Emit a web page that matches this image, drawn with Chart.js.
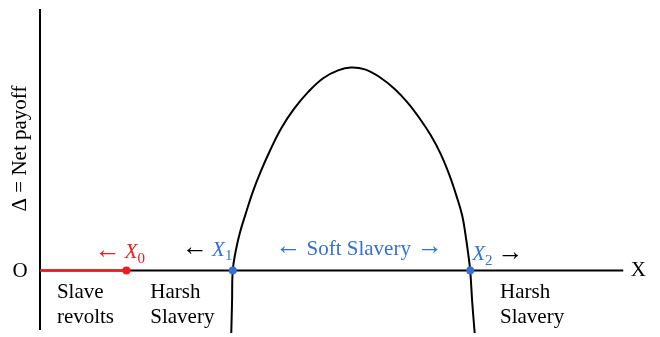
<!DOCTYPE html>
<html>
<head>
<meta charset="utf-8">
<script src="https://cdn.jsdelivr.net/npm/chart.js@4"></script>
<style>
  html, body { margin: 0; padding: 0; background: #fff; }
  #wrap { width: 660px; height: 337px; position: relative; }
</style>
</head>
<body>
<div id="wrap"><canvas id="chart"></canvas></div>
<script>
// curve (x along X axis, y = net payoff), origin at O
const curveX = [192.5, 193.3, 194, 197, 201, 207, 214, 222, 232, 243, 256, 270, 285, 300, 313,
                327, 342, 357, 370, 382, 393, 403, 412, 419, 425, 428.5, 431, 433, 435, 437.5];
const curveY = [-64, -32, 0, 20, 38, 58, 80, 101, 124, 146, 166, 183, 197, 205, 208,
                206, 198, 186, 172, 156, 139, 120, 98, 77, 56, 35, 17, 0, -32, -64];

const revoltX = [0, 87];          // red segment on the axis, ends at X0
const rootsX = [194, 433];        // X1, X2
const xAxisEnd = 587;
const yAxisTop = 268;
const yAxisBottom = -61;

const RED = '#f01c1c';
const BLUE = '#3470d8';
const SERIF = '"Liberation Serif", "DejaVu Serif", serif';

const pts = (xs, ys) => xs.map((x, i) => ({ x, y: ys[i] }));

const textPlugin = {
  id: 'labels',
  afterDraw(chart) {
    const ctx = chart.ctx;
    const sx = chart.scales.x, sy = chart.scales.y;
    const px = v => sx.getPixelForValue(v);
    const py = v => sy.getPixelForValue(v);

    // draws runs of text one after another from x; gap = extra px after a run
    const runs = (x, y, parts) => {
      parts.forEach(p => {
        const size = p.sub ? 15 : (p.arrow ? 26 : 21);
        ctx.font = `${p.italic ? 'italic ' : ''}${size}px ${SERIF}`;
        ctx.fillStyle = p.color || '#000';
        ctx.textAlign = 'left';
        ctx.textBaseline = 'middle';
        ctx.fillText(p.t, x, y + (p.sub ? 6 : 0) + (p.arrow ? -2 : 0));
        x += ctx.measureText(p.t).width + (p.gap || 0);
      });
    };

    ctx.save();
    ctx.font = `21px ${SERIF}`;
    ctx.fillStyle = '#000';
    ctx.textAlign = 'center';
    ctx.textBaseline = 'middle';
    ctx.fillText('O', px(0) - 20, py(0) + 1);
    ctx.fillText('X', px(xAxisEnd) + 15, py(0));

    // axis title
    ctx.save();
    ctx.translate(px(0) - 20, py(125));
    ctx.rotate(-Math.PI / 2);
    ctx.fillText('\u0394 = Net payoff', 0, 0);
    ctx.restore();

    runs(px(55), py(18), [
      { t: '\u2190', color: RED, arrow: true, gap: 4 },
      { t: 'X', italic: true, color: RED },
      { t: '0', color: RED, sub: true }
    ]);
    runs(px(143), py(21), [
      { t: '\u2190', arrow: true, gap: 4 },
      { t: 'X', italic: true, color: BLUE },
      { t: '1', color: BLUE, sub: true }
    ]);
    runs(px(237), py(22), [
      { t: '\u2190', color: BLUE, arrow: true, gap: 5 },
      { t: 'Soft Slavery', color: BLUE, gap: 6 },
      { t: '\u2192', color: BLUE, arrow: true }
    ]);
    runs(px(435), py(16), [
      { t: 'X', italic: true, color: BLUE },
      { t: '2', color: BLUE, sub: true, gap: 5 },
      { t: '\u2192', arrow: true }
    ]);

    const below = [
      [17, 'Slave', 'revolts'],
      [111, 'Harsh', 'Slavery'],
      [463, 'Harsh', 'Slavery']
    ];
    below.forEach(([x, a, b]) => {
      runs(px(x), py(-22), [{ t: a }]);
      runs(px(x), py(-48), [{ t: b }]);
    });
    ctx.restore();
  }
};

// lower order is drawn on top
new Chart(document.getElementById('chart'), {
  type: 'scatter',
  data: {
    datasets: [
      {
        data: [{ x: 0, y: yAxisBottom }, { x: 0, y: yAxisTop }],
        showLine: true, borderColor: '#000', borderWidth: 2, pointRadius: 0, order: 4
      },
      {
        data: [{ x: 0, y: 0 }, { x: xAxisEnd, y: 0 }],
        showLine: true, borderColor: '#000', borderWidth: 2, pointRadius: 0, order: 4
      },
      {
        data: pts(revoltX, [0, 0]),
        showLine: true, borderColor: RED, borderWidth: 2.5, pointRadius: 0, order: 2
      },
      {
        data: pts(curveX, curveY),
        showLine: true, borderColor: '#000', borderWidth: 2, pointRadius: 0,
        tension: 0.4, order: 3
      },
      {
        data: [{ x: revoltX[1], y: 0 }],
        pointRadius: 4, pointBorderWidth: 0,
        pointBackgroundColor: RED, pointBorderColor: RED, order: 0
      },
      {
        data: rootsX.map(x => ({ x, y: 0 })),
        pointRadius: 4, pointBorderWidth: 0,
        pointBackgroundColor: BLUE, pointBorderColor: BLUE, order: 0
      }
    ]
  },
  options: {
    responsive: true,
    maintainAspectRatio: false,
    animation: false,
    clip: false,
    layout: { padding: { left: 40, right: 0, top: 0, bottom: 0 } },
    scales: {
      x: { type: 'linear', min: 0, max: 620, display: false },
      y: { type: 'linear', min: -64, max: 273, display: false }
    },
    plugins: { legend: { display: false }, tooltip: { enabled: false } }
  },
  plugins: [textPlugin]
});
</script>
</body>
</html>
